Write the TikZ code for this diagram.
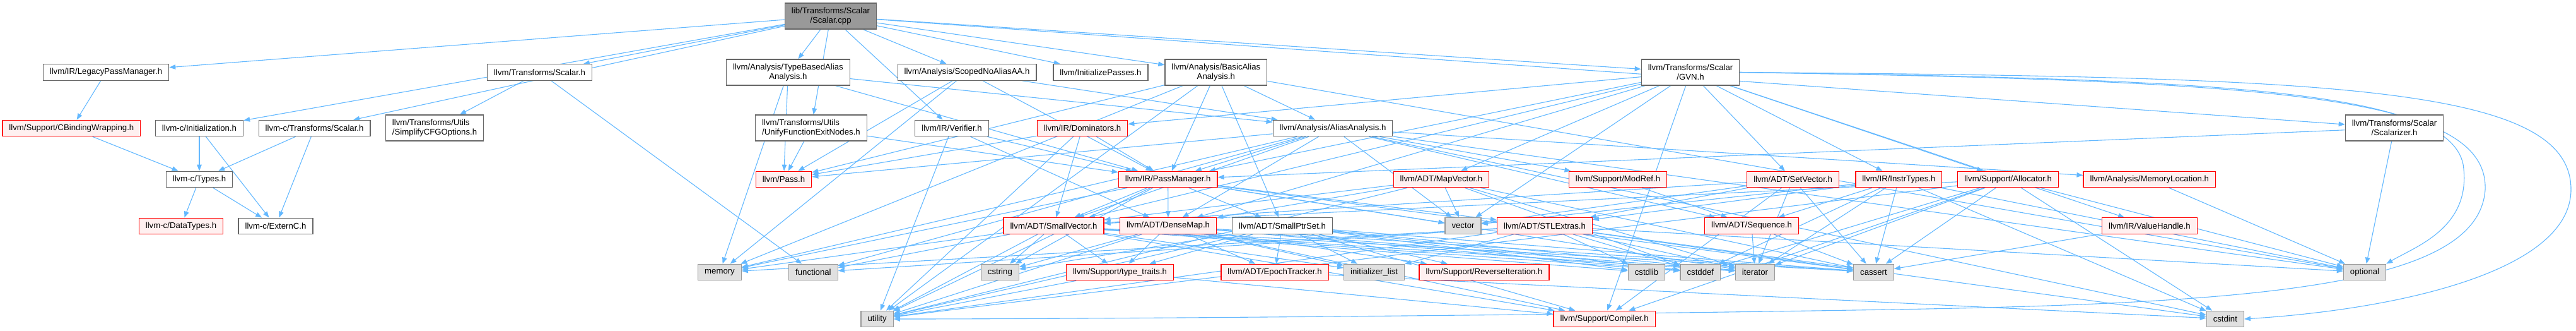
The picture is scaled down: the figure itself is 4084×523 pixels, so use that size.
\documentclass[tikz,border=0pt]{standalone}
\usepackage{fontspec}
\setmainfont{Liberation Sans}
\usetikzlibrary{arrows.meta,backgrounds}
\definecolor{edgeblue}{HTML}{63B8FF}
\definecolor{redfill}{HTML}{FFF0F0}
\definecolor{sysfill}{HTML}{E0E0E0}
\definecolor{sysdraw}{HTML}{999999}
\definecolor{normdraw}{HTML}{666666}
\definecolor{rootfill}{HTML}{999999}
\begin{document}
\begin{tikzpicture}[x=1pt,y=-1pt,
  base/.style={line width=1.2pt,inner xsep=10.5pt,inner ysep=2pt,minimum height=25.5pt,align=center,
    font=\fontsize{13.2}{15.3}\selectfont},
  nb/.style={base,draw=normdraw,fill=white},
  rb/.style={base,draw=red,fill=redfill},
  gb/.style={base,draw=sysdraw,fill=sysfill},
  rootb/.style={base,draw=normdraw,fill=rootfill},
  two/.style={minimum height=41pt},
  dep/.style={draw=edgeblue,line width=1.1pt,-{Triangle[length=10pt,width=7.5pt]}}
]
\useasboundingbox (0,0) rectangle (4084,523);
% rank 0
\node[rootb,two] (root) at (1317,25.5) {lib/Transforms/Scalar\\/Scalar.cpp};
% rank 1
\node[nb] (lpm) at (168,114.5) {llvm/IR/LegacyPassManager.h};
\node[nb] (tsc) at (855.6,114.5) {llvm/Transforms/Scalar.h};
\node[nb,two] (tbaa) at (1249.4,114.5) {llvm/Analysis/TypeBasedAlias\\Analysis.h};
\node[nb] (snaa) at (1533,114.5) {llvm/Analysis/ScopedNoAliasAA.h};
\node[nb] (ip) at (1745,114.5) {llvm/InitializePasses.h};
\node[nb,two] (baa) at (1927.8,114.5) {llvm/Analysis/BasicAlias\\Analysis.h};
\node[nb,two] (gvn) at (2680,114.5) {llvm/Transforms/Scalar\\/GVN.h};
% rank 2
\node[rb] (cbw) at (113.4,203) {llvm/Support/CBindingWrapping.h};
\node[nb] (cinit) at (316,203) {llvm-c/Initialization.h};
\node[nb] (ctsc) at (498.6,203) {llvm-c/Transforms/Scalar.h};
\node[nb,two,align=left] (scfg) at (689,202.5) {llvm/Transforms/Utils\\/SimplifyCFGOptions.h};
\node[nb,two,align=left] (ufen) at (1286,202.5) {llvm/Transforms/Utils\\/UnifyFunctionExitNodes.h};
\node[nb] (ver) at (1509,203) {llvm/IR/Verifier.h};
\node[rb] (dom) at (1716,203) {llvm/IR/Dominators.h};
\node[nb] (aa) at (2113,203) {llvm/Analysis/AliasAnalysis.h};
\node[nb,two] (scz) at (3796,202.5) {llvm/Transforms/Scalar\\/Scalarizer.h};
% rank 3
\node[nb] (ctypes) at (316,284) {llvm-c/Types.h};
\node[rb] (pass) at (1242.5,284) {llvm/Pass.h};
\node[rb] (pm) at (1851.7,284) {llvm/IR/PassManager.h};
\node[rb] (mapv) at (2285,284) {llvm/ADT/MapVector.h};
\node[rb] (modref) at (2565,284) {llvm/Support/ModRef.h};
\node[rb] (setv) at (2842.6,284) {llvm/ADT/SetVector.h};
\node[rb] (instr) at (3010.4,284) {llvm/IR/InstrTypes.h};
\node[rb] (alloc) at (3183.6,284) {llvm/Support/Allocator.h};
\node[rb] (memloc) at (3407.8,284) {llvm/Analysis/MemoryLocation.h};
% rank 4
\node[rb] (dtypes) at (287,358) {llvm-c/DataTypes.h};
\node[nb] (externc) at (437,358) {llvm-c/ExternC.h};
\node[rb] (smallv) at (1670.5,357.5) {llvm/ADT/SmallVector.h};
\node[rb] (densem) at (1852,357.5) {llvm/ADT/DenseMap.h};
\node[nb] (sps) at (2033,357.5) {llvm/ADT/SmallPtrSet.h};
\node[gb] (vector) at (2319.5,357.5) {vector};
\node[rb] (stlx) at (2449,357.5) {llvm/ADT/STLExtras.h};
\node[rb] (seq) at (2777,357.5) {llvm/ADT/Sequence.h};
\node[rb] (vh) at (3408,357.5) {llvm/IR/ValueHandle.h};
% rank 5
\node[gb] (memory) at (1141,431) {memory};
\node[gb] (functional) at (1289.4,431) {functional};
\node[gb] (cstring) at (1585.4,431) {cstring};
\node[rb] (tt) at (1775.6,431) {llvm/Support/type\_traits.h};
\node[rb] (epoch) at (2021,431) {llvm/ADT/EpochTracker.h};
\node[gb] (initl) at (2178.6,431) {initializer\_list};
\node[rb] (revit) at (2353,431) {llvm/Support/ReverseIteration.h};
\node[gb] (cstdlib) at (2610.5,431) {cstdlib};
\node[gb] (cstddef) at (2695.8,431) {cstddef};
\node[gb] (iterator) at (2782.5,431) {iterator};
\node[gb] (cassert) at (2970.4,431) {cassert};
\node[gb] (optional) at (3749,431) {optional};
% rank 6
\node[gb] (utility) at (1390.6,505) {utility};
\node[rb] (compiler) at (2543.6,505) {llvm/Support/Compiler.h};
\node[gb] (cstdint) at (3527.8,505) {cstdint};

\begin{pgfonlayer}{background}
\foreach \a/\b in {
 root/lpm, root/cinit, root/ctsc, root/tsc, root/tbaa, root/snaa, root/ip, root/baa, root/gvn, root/scz, root/ver, root/ufen,
 lpm/cbw, cbw/ctypes, cinit/ctypes, cinit/externc, ctsc/ctypes, ctsc/externc, ctypes/dtypes, ctypes/externc,
 tsc/scfg, tsc/functional,
 tbaa/aa, tbaa/pm, tbaa/pass, tbaa/memory,
 snaa/aa, snaa/pm, snaa/pass, snaa/memory,
 baa/sps, baa/aa, baa/pm, baa/pass, baa/memory, baa/optional, baa/utility,
 ver/densem, ver/pm, ver/utility,
 ufen/pm, ufen/pass,
 gvn/densem, gvn/mapv, gvn/setv, gvn/smallv, gvn/dom, gvn/instr, gvn/pm, gvn/vh, gvn/alloc, gvn/compiler, gvn/vector,
 scz/pm, scz/optional,
 dom/smallv, dom/pm, dom/pass, dom/utility,
 aa/densem, aa/seq, aa/smallv, aa/memloc, aa/pm, aa/pass, aa/modref, aa/cstdint, aa/functional, aa/memory, aa/optional, aa/vector,
 pm/densem, pm/stlx, pm/sps, pm/smallv, pm/cassert, pm/cstring, pm/iterator, pm/memory, pm/utility, pm/vector,
 mapv/densem, mapv/smallv, mapv/cassert, mapv/cstddef, mapv/iterator, mapv/utility, mapv/vector,
 modref/seq,
 setv/stlx, setv/smallv, setv/compiler, setv/cassert, setv/iterator, setv/vector,
 instr/stlx, instr/seq, instr/cassert, instr/cstddef, instr/cstdint, instr/iterator, instr/optional, instr/vector,
 alloc/smallv, alloc/compiler, alloc/cassert, alloc/cstddef, alloc/cstdint, alloc/iterator, alloc/optional, alloc/utility,
 memloc/optional, vh/cassert,
 smallv/compiler, smallv/tt, smallv/cassert, smallv/cstddef, smallv/cstdlib, smallv/cstring, smallv/functional, smallv/initl, smallv/iterator, smallv/memory, smallv/utility,
 densem/epoch, densem/compiler, densem/revit, densem/tt, densem/cassert, densem/cstddef, densem/cstring, densem/initl, densem/iterator, densem/utility,
 sps/epoch, sps/compiler, sps/revit, sps/tt, sps/cassert, sps/cstddef, sps/cstdlib, sps/cstring, sps/initl, sps/iterator, sps/utility,
 stlx/cassert, stlx/cstddef, stlx/cstdint, stlx/cstdlib, stlx/functional, stlx/initl, stlx/iterator, stlx/memory, stlx/optional, stlx/utility,
 seq/cassert, seq/iterator, tt/compiler, tt/utility, epoch/cstdint}
 \draw[dep] (\a) -- (\b);
% long curved edges that dot routes round the right-hand side
\draw[dep] (gvn.east) .. controls (3500,125) and (3880,140) .. (3905,260) .. controls (3920,360) and (3830,390) .. (optional.north east);
\draw[dep] (gvn.east) .. controls (3600,128) and (3945,150) .. (3940,300) .. controls (3930,450) and (3600,480) .. (3000,490) .. controls (2400,500) and (1700,505) .. (utility.east);
\draw[dep] (gvn.east) .. controls (3700,122) and (4076,135) .. (4076,300) .. controls (4076,430) and (3800,490) .. (cstdint.east);
\end{pgfonlayer}
\end{tikzpicture}
\end{document}
